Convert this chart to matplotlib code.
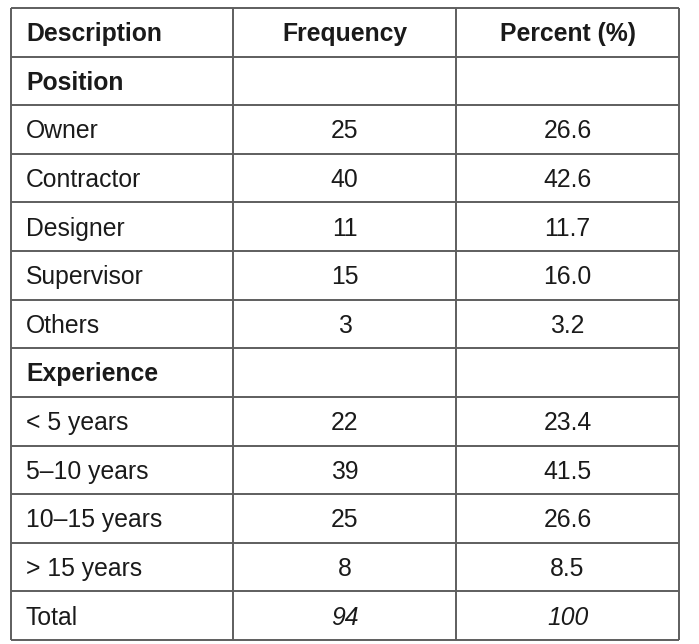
import matplotlib
matplotlib.use("Agg")
import matplotlib.pyplot as plt

headers = ["Description", "Frequency", "Percent (%)"]
sections = ["Position", "Experience"]
position_labels = ["Owner", "Contractor", "Designer", "Supervisor", "Others"]
position_freq = ["25", "40", "11", "15", "3"]
position_pct = ["26.6", "42.6", "11.7", "16.0", "3.2"]
experience_labels = ["< 5 years", "5\u201310 years", "10\u201315 years", "> 15 years"]
experience_freq = ["22", "39", "25", "8"]
experience_pct = ["23.4", "41.5", "26.6", "8.5"]
total_label = "Total"
total_freq = "94"
total_pct = "100"

W, H = 699, 644
fig = plt.figure(figsize=(W / 100, H / 100), dpi=100)
ax = fig.add_axes([0, 0, 1, 1])
ax.set_xlim(0, W)
ax.set_ylim(H, 0)
ax.axis("off")

font = "Liberation Sans"
fs = 17.8
cap_px = 0.716 * fs * 100 / 72
left, right = 11, 679
col_x = [11, 233, 456, 679]
top, bottom = 8, 640

rows = []
rows.append(("header", headers))
rows.append(("section", [sections[0], "", ""]))
for l, f, p in zip(position_labels, position_freq, position_pct):
    rows.append(("data", [l, f, p]))
rows.append(("section", [sections[1], "", ""]))
for l, f, p in zip(experience_labels, experience_freq, experience_pct):
    rows.append(("data", [l, f, p]))
rows.append(("total", [total_label, total_freq, total_pct]))

n = len(rows)
rh = (bottom - top) / n
lc = "#5e5e5e"
lw = 1.4

for i in range(n + 1):
    y = top + i * rh
    ax.plot([left, right], [y, y], color=lc, lw=lw, solid_capstyle="butt")
for x in col_x:
    ax.plot([x, x], [top, bottom], color=lc, lw=lw, solid_capstyle="butt")

for i, (kind, cells) in enumerate(rows):
    yb = top + (i + 0.5) * rh + cap_px / 2
    for j, txt in enumerate(cells):
        if not txt:
            continue
        weight = "bold" if kind in ("header", "section") else "normal"
        style = "italic" if (kind == "total" and j > 0) else "normal"
        if j == 0:
            ax.text(26, yb, txt, ha="left", va="baseline", fontsize=fs,
                    fontweight=weight, fontstyle=style, family=font, color="#1a1a1a")
        else:
            xc = (col_x[j] + col_x[j + 1]) / 2
            ax.text(xc, yb, txt, ha="center", va="baseline", fontsize=fs,
                    fontweight=weight, fontstyle=style, family=font, color="#1a1a1a")

fig.savefig("out.png", dpi=100)
